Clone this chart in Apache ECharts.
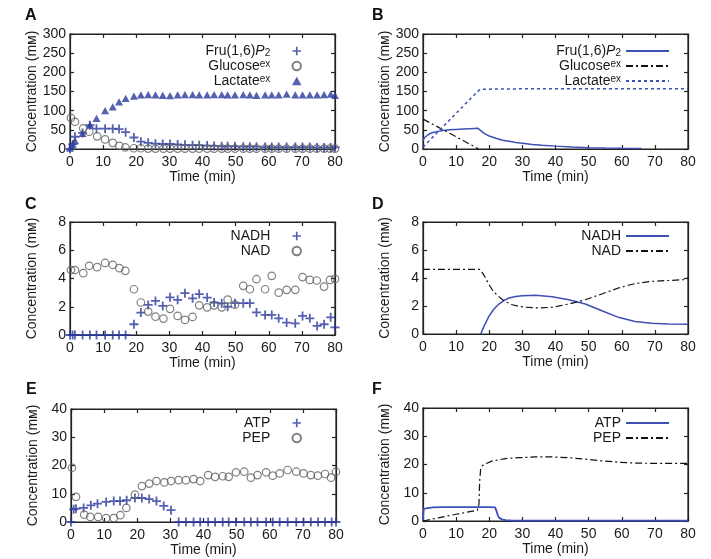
<!DOCTYPE html>
<html><head><meta charset="utf-8">
<script src="https://cdn.jsdelivr.net/npm/echarts@6/dist/echarts.min.js"></script>
<style>html,body{margin:0;padding:0;background:#fff}#c{width:711px;height:559px}</style>
</head><body><div id="c"></div>
<script>
// ---------- DATA ----------
const xTicks = [0, 10, 20, 30, 40, 50, 60, 70, 80];
const yTicksA = [0, 50, 100, 150, 200, 250, 300];
const yTicksC = [0, 2, 4, 6, 8];
const yTicksE = [0, 10, 20, 30, 40];

// measurement times (crosses / triangles)
const tMeas = [0, 0.8, 1.5, 3.8, 6, 8, 10.6, 12.9, 14.8, 16.8, 19.3, 21.4, 23.6, 25.8, 28, 30.2, 32.5, 34.7, 37, 39,
  41.4, 43.5, 45.8, 47.6, 49.8, 52.3, 54.3, 56.3, 58.9, 60.9, 63, 65.4, 68, 70.2, 72.4, 74.6, 76.7, 78.7, 80];
// measurement times (circles)
const tCirc = [0.3, 1.5, 4, 5.8, 8.2, 10.6, 12.9, 14.9, 16.7, 19.3, 21.4, 23.6, 25.8, 28.2, 30.2, 32.5, 34.7, 37, 39,
  41.4, 43.5, 45.8, 47.6, 49.8, 52.3, 54.3, 56.3, 58.9, 60.9, 63, 65.4, 68, 70.2, 72.4, 74.5, 76.7, 78.5, 80];

// Panel A (experiment)
const fruA = [0, 12, 32, 42, 62, 53, 53, 53, 52, 44, 30, 19, 16, 14, 13, 13, 12, 11, 10, 10,
  9, 8, 7, 7, 7, 6, 6, 6, 5, 5, 5, 5, 5, 5, 5, 4, 4, 4, 4];
const glucoseA = [81, 71, 54, 45, 33, 25, 16, 8, 4, 2, 2, 1, 1, 1, 1, 1, 1, 1, 1,
  1, 1, 1, 1, 1, 1, 1, 1, 1, 1, 1, 1, 1, 1, 1, 1, 1, 1, 1];
const lactateA = [2, 12, 22, 41, 63, 80, 100, 110, 123, 132, 138, 141, 142, 141, 140, 139, 141, 142, 142, 141,
  141, 142, 142, 141, 141, 142, 141, 140, 141, 141, 141, 143, 141, 141, 141, 141, 142, 143, 140];

// Panel B (model)
const tFruB = [0, 0.5, 1, 2, 3, 4.5, 6, 8, 10, 12, 14, 16.6, 17.2, 18, 19, 20, 22, 24, 26, 28, 30, 33, 36, 40, 45, 50, 55, 60, 66];
const fruB = [22, 30, 35, 40, 43, 46, 48, 50, 51, 52, 53, 54, 50, 44, 38, 34, 28, 23, 20, 17, 15, 12, 10, 7.5, 5, 3.5, 2.5, 1.8, 1.5];
const tGlucoseB = [0, 8.5, 16.8];
const glucoseB = [78, 39, 0];
const tLactateB = [0, 16.7, 17.5, 30, 80];
const lactateB = [5, 152, 156, 157, 157];

// Panel C (experiment)
const nadhC = [0, 0, 0, 0, 0, 0, 0, 0, 0, 0, 0.76, 1.59, 2.13, 2.41, 2.06, 2.67, 2.49, 2.96, 2.6, 2.9,
  2.65, 2.3, 2.25, 2.0, 2.25, 2.25, 2.25, 1.6, 1.42, 1.42, 1.18, 0.88, 0.83, 1.35, 1.18, 0.64, 0.76, 1.25, 0.54];
const nadC = [4.6, 4.6, 4.38, 4.9, 4.8, 5.1, 4.97, 4.73, 4.54, 3.24, 2.3, 1.66, 1.3, 1.16, 1.85, 1.35, 1.07, 1.28, 2.1,
  1.96, 2.1, 1.96, 2.5, 2.15, 3.48, 3.24, 3.95, 3.24, 4.19, 3.0, 3.2, 3.2, 4.1, 3.9, 3.86, 3.43, 3.9, 3.97];

// Panel D (model)
const tNadhD = [17.4, 18.5, 19.9, 21.3, 22.9, 24.5, 26, 28, 30, 34, 39, 44, 49, 54, 59, 64, 69, 74, 80];
const nadhD = [0, 0.6, 1.26, 1.75, 2.14, 2.4, 2.57, 2.68, 2.74, 2.76, 2.66, 2.45, 2.14, 1.66, 1.19, 0.9, 0.76, 0.71, 0.7];
const tNadD = [0, 17.2, 18, 18.9, 20, 20.9, 22.5, 24, 25.5, 27, 29, 31, 35, 39, 44, 49, 54, 59, 64, 69, 74, 78.7, 80];
const nadD = [4.62, 4.62, 4.35, 4.0, 3.5, 3.16, 2.75, 2.45, 2.25, 2.09, 1.97, 1.91, 1.86, 1.91, 2.14, 2.45, 2.86, 3.29, 3.6, 3.76, 3.82, 3.88, 4.0];

// Panel E (experiment)
const atpE = [0, 4.5, 4.7, 5.0, 5.9, 6.5, 7.1, 7.4, 7.4, 7.7, 8.5, 8.5, 8.1, 7.4, 5.7, 4.2, 0, 0, 0, 0,
  0, 0, 0, 0, 0, 0, 0, 0, 0, 0, 0, 0, 0, 0, 0, 0, 0, 0, 0];
const pepE = [19.2, 8.9, 2.6, 1.8, 1.8, 1.4, 1.4, 2.4, 5.0, 9.7, 12.7, 13.6, 14.5, 14.0, 14.5, 14.8, 14.8, 15.2, 14.5,
  16.6, 16.0, 16.2, 16.0, 17.6, 17.8, 15.7, 16.6, 17.6, 16.4, 17.2, 18.4, 17.8, 17.2, 16.6, 16.4, 17.0, 15.7, 17.8];

// Panel F (model)
const tAtpF = [0, 0.2, 1, 3, 6, 10, 15, 20, 21.8, 22.2, 22.6, 23, 24, 25, 27, 30, 40, 60, 80];
const atpF = [0.3, 4.3, 4.5, 4.8, 4.9, 4.9, 4.9, 4.9, 4.8, 3.5, 2.0, 1.1, 0.5, 0.3, 0.15, 0.1, 0.1, 0.1, 0.1];
const tPepF = [0, 5, 10, 16.4, 16.9, 17.1, 17.4, 18, 19, 21, 25, 29, 34, 39, 44, 49, 54, 59, 64, 70, 75, 80];
const pepF = [0, 1.2, 2.4, 3.8, 6, 14, 18.3, 19.7, 20.3, 21.3, 22.1, 22.4, 22.7, 22.7, 22.4, 21.9, 21.3, 20.8, 20.5, 20.4, 20.4, 20.4];

// ---------- CHART ----------
const FONT = '"Liberation Sans", Arial, Helvetica, sans-serif';
const TXT = '#1a1a1a';
const BLUE = '#2b3a9c';
const LBLUE = '#3e4fb5';
const GREY = '#606060';
const BLACK = '#111';
const PLUS = 'path://M4,0h2v4h4v2h-4v4h-2v-4h-4v-2h4z';
const TRI = 'path://M5,0L10,9H0Z';

const zip = (xs, ys) => xs.map((x, i) => [x, ys[i]]);

const grids = [
  {left: 70, top: 34, width: 265, height: 115},
  {left: 423, top: 34, width: 265, height: 115},
  {left: 70, top: 222, width: 265, height: 113},
  {left: 423, top: 222, width: 265, height: 112},
  {left: 71, top: 409, width: 265, height: 113},
  {left: 423, top: 408, width: 265, height: 113}
];
const yTickSets = [yTicksA, yTicksA, yTicksC, yTicksC, yTicksE, yTicksE];

const xAxis = [], yAxis = [];
grids.forEach((g, i) => {
  const yt = yTickSets[i];
  const ymin = yt[0], ymax = yt[yt.length - 1], yint = yt[1] - yt[0];
  const common = {
    axisLine: {show: true, onZero: false, lineStyle: {color: '#222', width: 1.2}},
    axisTick: {show: true, inside: true, length: 4, lineStyle: {color: '#222', width: 1.2}},
    splitLine: {show: false}
  };
  xAxis.push(Object.assign({}, common, {
    type: 'value', gridIndex: i, position: 'bottom', min: xTicks[0], max: xTicks[xTicks.length - 1],
    interval: xTicks[1] - xTicks[0],
    axisLabel: {color: TXT, fontFamily: FONT, fontSize: 14, margin: 6},
    name: 'Time (min)', nameLocation: 'middle', nameGap: 20,
    nameTextStyle: {color: TXT, fontFamily: FONT, fontSize: 14}
  }));
  xAxis.push(Object.assign({}, common, {
    type: 'value', gridIndex: i, position: 'top', min: xTicks[0], max: xTicks[xTicks.length - 1],
    interval: xTicks[1] - xTicks[0], axisLabel: {show: false}
  }));
  yAxis.push(Object.assign({}, common, {
    type: 'value', gridIndex: i, position: 'left', min: ymin, max: ymax, interval: yint,
    axisLabel: {color: TXT, fontFamily: FONT, fontSize: 14, margin: 4},
    name: 'Concentration (m\u1D0D)', nameLocation: 'middle', nameGap: 31,
    nameTextStyle: {color: TXT, fontFamily: FONT, fontSize: 14}
  }));
  yAxis.push(Object.assign({}, common, {
    type: 'value', gridIndex: i, position: 'right', min: ymin, max: ymax, interval: yint,
    axisLabel: {show: false}
  }));
});

function scatter(name, panel, data, symbol, size, style) {
  return {name, type: 'scatter', xAxisIndex: panel * 2, yAxisIndex: panel * 2, data,
    symbol, symbolSize: size, symbolKeepAspect: true, itemStyle: style, clip: false, z: 3};
}
function line(name, panel, data, color, type, width) {
  return {name, type: 'line', xAxisIndex: panel * 2, yAxisIndex: panel * 2, data,
    symbol: 'none', smooth: false, lineStyle: {color, type, width}, itemStyle: {color}, z: 3};
}
const plusStyle = {color: BLUE};
const circStyle = {color: 'rgba(255,255,255,0)', borderColor: GREY, borderWidth: 1.2};
const triStyle = {color: BLUE};
const dashDot = [7, 3, 2, 3];

const series = [
  scatter('A_fru', 0, zip(tMeas, fruA), PLUS, 9, plusStyle),
  scatter('A_glu', 0, zip(tCirc, glucoseA), 'circle', 7.5, circStyle),
  scatter('A_lac', 0, zip(tMeas, lactateA), TRI, 8, triStyle),
  line('B_fru', 1, zip(tFruB, fruB), LBLUE, 'solid', 1.5),
  line('B_glu', 1, zip(tGlucoseB, glucoseB), BLACK, dashDot, 1.2),
  line('B_lac', 1, zip(tLactateB, lactateB), LBLUE, [3, 3], 1.5),
  scatter('C_nadh', 2, zip(tMeas, nadhC), PLUS, 9, plusStyle),
  scatter('C_nad', 2, zip(tCirc, nadC), 'circle', 7.5, circStyle),
  line('D_nadh', 3, zip(tNadhD, nadhD), LBLUE, 'solid', 1.5),
  line('D_nad', 3, zip(tNadD, nadD), BLACK, dashDot, 1.2),
  scatter('E_atp', 4, zip(tMeas, atpE), PLUS, 9, plusStyle),
  scatter('E_pep', 4, zip(tCirc, pepE), 'circle', 7.5, circStyle),
  line('F_atp', 5, zip(tAtpF, atpF), LBLUE, 'solid', 1.8),
  line('F_pep', 5, zip(tPepF, pepF), BLACK, dashDot, 1.2)
];

const labelText = {
  A_fru: 'Fru(1,6){it|P}{sub|2}', A_glu: 'Glucose{sup|ex}', A_lac: 'Lactate{sup|ex}',
  B_fru: 'Fru(1,6){it|P}{sub|2}', B_glu: 'Glucose{sup|ex}', B_lac: 'Lactate{sup|ex}',
  C_nadh: 'NADH', C_nad: 'NAD', D_nadh: 'NADH', D_nad: 'NAD',
  E_atp: 'ATP', E_pep: 'PEP', F_atp: 'ATP', F_pep: 'PEP'
};
const rich = {
  it: {fontStyle: 'italic', fontSize: 14, fontFamily: FONT, color: TXT, lineHeight: 14},
  sub: {fontSize: 10, fontFamily: FONT, color: TXT, verticalAlign: 'bottom', lineHeight: 14},
  sup: {fontSize: 10, fontFamily: FONT, color: TXT, verticalAlign: 'top', lineHeight: 14}
};
function legend(names, top, right, isLine) {
  const lg = {data: names, orient: 'vertical', align: 'right', top, right,
    itemWidth: 43, itemHeight: isLine ? 10 : 8.5, itemGap: 1, selectedMode: false, padding: 0,
    formatter: n => labelText[n],
    textStyle: {color: TXT, fontFamily: FONT, fontSize: 14, lineHeight: 14, rich}};
  if (isLine) lg.itemStyle = {opacity: 0};
  return lg;
}
const legends = [
  legend(['A_fru', 'A_glu', 'A_lac'], 44, 409, false),
  legend(['B_fru', 'B_glu', 'B_lac'], 44, 41, true),
  legend(['C_nadh', 'C_nad'], 229, 409, false),
  legend(['D_nadh', 'D_nad'], 229, 41, true),
  legend(['E_atp', 'E_pep'], 416, 409, false),
  legend(['F_atp', 'F_pep'], 416, 41, true)
];

const letters = [['A', 25, 8], ['B', 372, 8], ['C', 25, 197], ['D', 372, 197], ['E', 26, 382], ['F', 372, 382]];
const title = letters.map(l => ({text: l[0], left: l[1], top: l[2], padding: 0,
  textStyle: {fontFamily: FONT, fontSize: 16, fontWeight: 'bold', color: '#111'}}));

const chart = echarts.init(document.getElementById('c'), null, {renderer: 'canvas'});
chart.setOption({
  animation: false,
  backgroundColor: '#fff',
  title,
  grid: grids.map(g => Object.assign({show: true, borderColor: '#222', borderWidth: 1.2, backgroundColor: 'transparent'}, g)),
  xAxis, yAxis, legend: legends, series
});
</script>
</body></html>
